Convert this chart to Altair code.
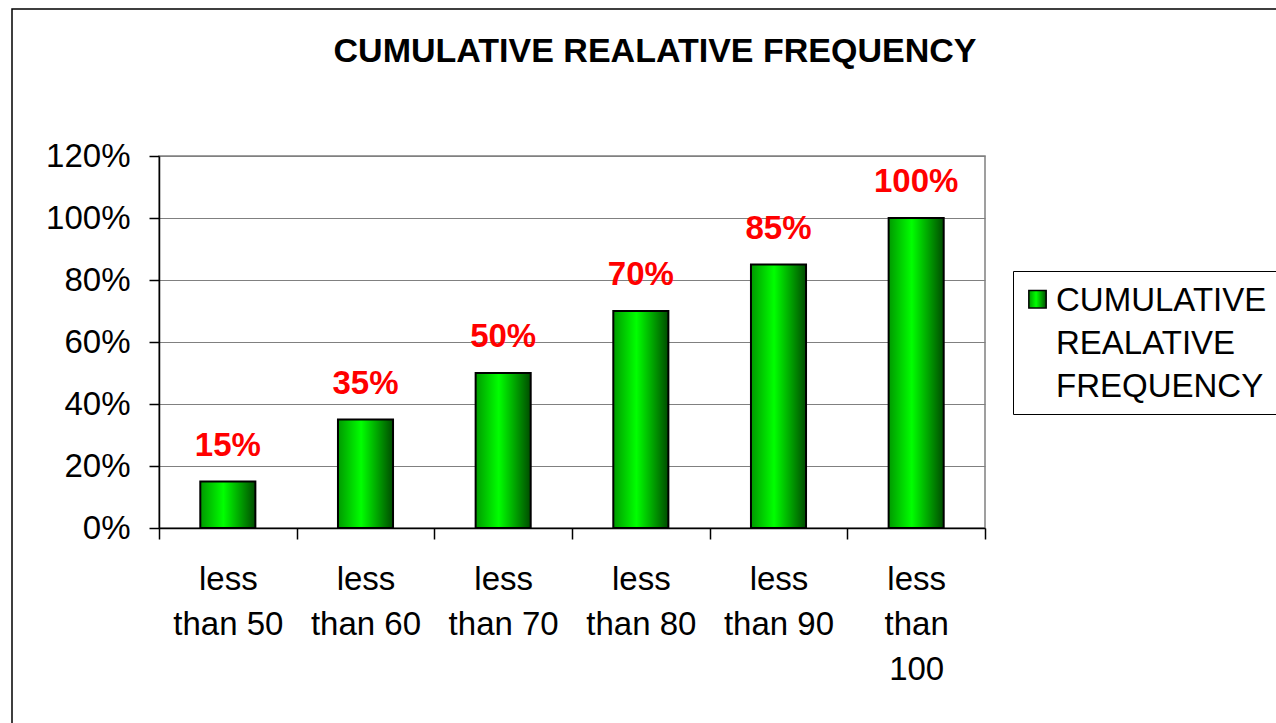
import altair as alt
import pandas as pd

# Cumulative relative frequency by score class
categories = ["less\nthan 50", "less\nthan 60", "less\nthan 70",
              "less\nthan 80", "less\nthan 90", "less\nthan\n100"]
values = [0.15, 0.35, 0.50, 0.70, 0.85, 1.00]
series_name = "CUMULATIVE REALATIVE FREQUENCY"
y_ticks = [0, 0.2, 0.4, 0.6, 0.8, 1.0, 1.2]

df = pd.DataFrame({"bin": categories, "share": values, "series": series_name})

FONT = "Liberation Sans"
PLOT_W, PLOT_H = 826, 372
LABEL_LIFT = 13  # shared vertical shift of guide labels (pulls legend text up)

bar_fill = alt.Gradient(
    gradient="linear", x1=0, x2=1, y1=0, y2=0,
    stops=[
        alt.GradientStop(color="#009a00", offset=0),
        alt.GradientStop(color="#00ff00", offset=0.42),
        alt.GradientStop(color="#004c00", offset=1),
    ],
)

x_enc = alt.X(
    "bin:N", sort=categories,
    scale=alt.Scale(paddingInner=0, paddingOuter=0),
    axis=alt.Axis(
        title=None, labelAngle=0, labelExpr="split(datum.label, '\\n')",
        tickBand="extent", tickSize=11, labelPadding=24 + LABEL_LIFT,
        labelFont=FONT, labelFontSize=33, labelLineHeight=45, labelColor="black",
        domainColor="black", tickColor="black", domainWidth=1.5, tickWidth=1.5,
        grid=False,
    ),
)
y_enc = alt.Y(
    "share:Q",
    scale=alt.Scale(domain=[0, 1.2], nice=False),
    axis=alt.Axis(
        title=None, values=y_ticks, format="%",
        tickSize=10, labelPadding=19, labelOffset=LABEL_LIFT,
        labelFont=FONT, labelFontSize=33, labelColor="black",
        domainColor="black", tickColor="black", domainWidth=1.5, tickWidth=1.5,
        grid=True, gridColor="#808080", gridWidth=1,
    ),
)

bars = alt.Chart(df).mark_bar(
    fill=bar_fill, strokeWidth=2, width=alt.RelativeBandSize(0.4)
).encode(
    x=x_enc,
    y=y_enc,
    stroke=alt.Stroke(
        "series:N",
        scale=alt.Scale(range=["black"]),
        legend=alt.Legend(
            title=None, orient="none", legendX=854, legendY=115,
            labelExpr="split(datum.label, ' ')",
            labelFont=FONT, labelFontSize=33,
            labelBaseline="top", labelLimit=400, labelOffset=2,
            symbolType="M-1,-0.8H1V1.2H-1Z", symbolSize=300,
            symbolFillColor="#00d400", symbolStrokeWidth=1.5, symbolOffset=-2,
            padding=10, strokeColor="black", fillColor="white",
        ),
    ),
)

labels = alt.Chart(df).mark_text(
    color="#ff0000", font=FONT, fontWeight="bold", fontSize=33,
    baseline="alphabetic", dy=-26,
).encode(
    x=alt.X("bin:N", sort=categories),
    y=alt.Y("share:Q"),
    text=alt.Text("share:Q", format=".0%"),
)

frame = alt.Chart(pd.DataFrame({"frame": [0]})).mark_rect(
    filled=False, stroke="black", strokeWidth=1.5
).encode(
    x=alt.value(-147), x2=alt.value(1141), y=alt.value(-147), y2=alt.value(600)
)

chart = alt.layer(frame, bars, labels).properties(
    width=PLOT_W, height=PLOT_H,
    autosize=alt.AutoSizeParams(type="none"),
    padding={"left": 159, "top": 156, "right": 291, "bottom": 195},
    title=alt.TitleParams(
        series_name, font=FONT, fontSize=34, fontWeight="bold", color="black",
        anchor="middle", dx=83, offset=-61,
    ),
).configure(
    background="white",
    style={"guide-label": {"lineHeight": 43, "dy": -LABEL_LIFT}},
    view=alt.ViewConfig(stroke="#808080", strokeWidth=1.5),
)

chart.save("out.html", embed_options={"renderer": "svg", "actions": False})
